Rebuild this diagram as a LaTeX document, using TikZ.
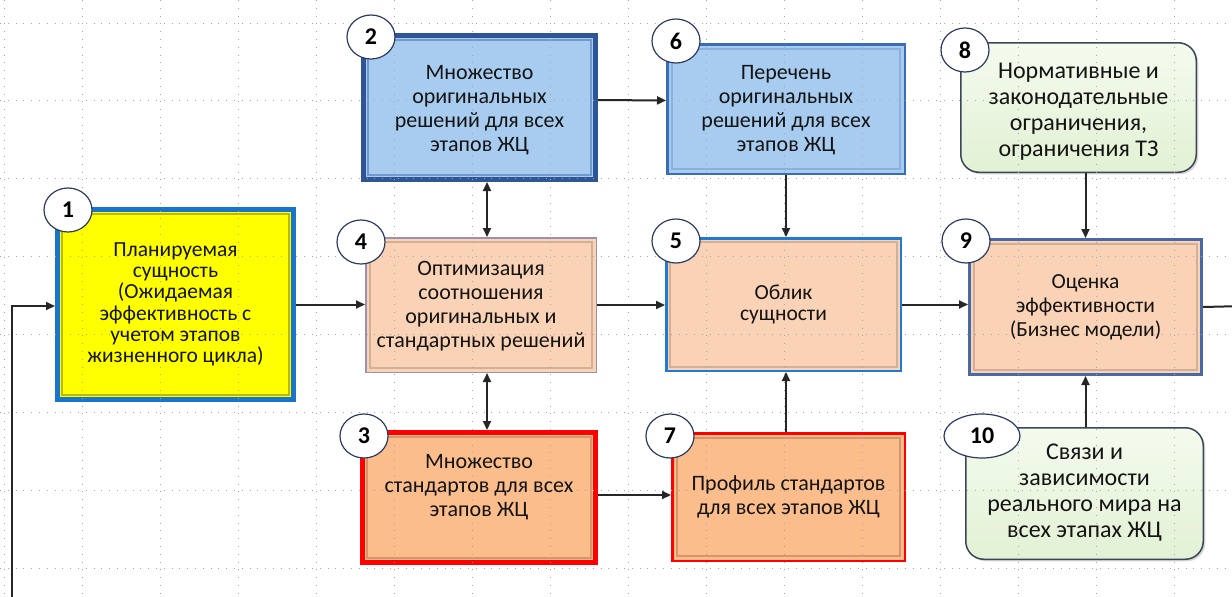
\documentclass[tikz,border=0pt]{standalone}
\usepackage{fontspec}
\setmainfont{Carlito}
\usetikzlibrary{arrows.meta,shapes.geometric,calc,shadows}
\definecolor{arrc}{HTML}{262626}
\definecolor{numc}{HTML}{2B3A5E}
\definecolor{bOneB}{HTML}{1874CD}
\definecolor{bOneF}{HTML}{FFFF00}
\definecolor{bOneR}{HTML}{B8B800}
\definecolor{blueF}{HTML}{A8CCF0}
\definecolor{bTwoB}{HTML}{2E5597}
\definecolor{bTwoR}{HTML}{7299CC}
\definecolor{bSixB}{HTML}{3A6DB8}
\definecolor{bSixR}{HTML}{8AB0DC}
\definecolor{peachF}{HTML}{FAD2B5}
\definecolor{peachR}{HTML}{D2B098}
\definecolor{bFourB}{HTML}{9A90B4}
\definecolor{bFiveB}{HTML}{1E7AD2}
\definecolor{bNineB}{HTML}{4868A8}
\definecolor{orangeF}{HTML}{FBBD8C}
\definecolor{orangeR}{HTML}{D6966C}
\definecolor{redB}{HTML}{FF0000}
\definecolor{greenT}{HTML}{F4FBEE}
\definecolor{greenB}{HTML}{E2F1D4}
\definecolor{greenD}{HTML}{3B4656}
\begin{document}
\begin{tikzpicture}[x=1pt,y=-1pt,
  box/.style={rectangle, inner sep=0pt},
  gbox/.style={rectangle, rounded corners=18pt, inner sep=0pt, draw=greenD, line width=1.5pt,
    top color=greenT, bottom color=greenB,
    drop shadow={opacity=0.3, shadow xshift=2pt, shadow yshift=-2pt}},
  txt/.style={align=center, inner sep=0pt, text=black!92, font=\fontsize{22}{24}\selectfont},
  num/.style={ellipse, draw=numc, line width=1.2pt, fill=white, minimum width=48pt,
    minimum height=44pt, inner sep=0pt, font=\fontsize{24}{24}\selectfont\bfseries},
  arr/.style={line width=2pt, draw=arrc, -{Triangle[length=9pt,width=8pt]}},
  darr/.style={line width=2pt, draw=arrc, {Triangle[length=9pt,width=8pt]}-{Triangle[length=9pt,width=8pt]}},
  plain/.style={line width=2pt, draw=arrc},
  gridline/.style={draw=black!35, line width=0.8pt, dash pattern=on 1pt off 6.8pt},
  rim/.style={line width=1.3pt}]
\useasboundingbox[fill=white] (0,0) rectangle (1232,597);

% boxes
\node[box, draw=bOneB, line width=5pt, fill=bOneF, minimum width=236pt, minimum height=190pt] (b1) at (175.5,304.5) {};
\node[box, draw=bTwoB, line width=5pt, fill=blueF, minimum width=232pt, minimum height=144pt] (b2) at (479.5,107.5) {};
\node[box, draw=bSixB, line width=2.5pt, fill=blueF, minimum width=237.5pt, minimum height=129.5pt] (b6) at (786,109) {};
\node[gbox, minimum width=235.5pt, minimum height=129.5pt] (b8) at (1078.5,107.5) {};
\node[box, draw=bFourB, line width=1.5pt, fill=peachF, minimum width=230.5pt, minimum height=134.5pt] (b4) at (481,305) {};
\node[box, draw=bFiveB, line width=2.5pt, fill=peachF, minimum width=234.5pt, minimum height=132.5pt] (b5) at (783.5,304.5) {};
\node[box, draw=bNineB, line width=3pt, fill=peachF, minimum width=232pt, minimum height=135pt] (b9) at (1085.5,307) {};
\node[box, draw=redB, line width=5pt, fill=orangeF, minimum width=233pt, minimum height=130pt] (b3) at (479,497.5) {};
\node[box, draw=redB, line width=2.5pt, fill=orangeF, minimum width=232.5pt, minimum height=127.5pt] (b7) at (788.5,497) {};
\node[gbox, minimum width=237.5pt, minimum height=131.5pt] (b10) at (1084.5,493.5) {};

% inner rims
\draw[rim, draw=bOneR] ($(b1.north west)+(7,7)$) rectangle ($(b1.south east)-(7,7)$);
\draw[rim, draw=bTwoR] ($(b2.north west)+(7,7)$) rectangle ($(b2.south east)-(7,7)$);
\draw[rim, draw=bSixR] ($(b6.north west)+(6,6)$) rectangle ($(b6.south east)-(6,6)$);
\draw[rim, draw=peachR] ($(b4.north west)+(5,5)$) rectangle ($(b4.south east)-(5,5)$);
\draw[rim, draw=peachR] ($(b5.north west)+(5,5)$) rectangle ($(b5.south east)-(5,5)$);
\draw[rim, draw=peachR] ($(b9.north west)+(6,6)$) rectangle ($(b9.south east)-(6,6)$);
\draw[rim, draw=orangeR] ($(b3.north west)+(7,7)$) rectangle ($(b3.south east)-(7,7)$);
\draw[rim, draw=orangeR] ($(b7.north west)+(6,6)$) rectangle ($(b7.south east)-(6,6)$);

% dotted grid
\foreach \i in {0,...,15} \draw[gridline] (4+78.05*\i,0) -- (4+78.05*\i,597);
\foreach \j in {0,...,7} \draw[gridline] (0,23+77.86*\j) -- (1232,23+77.86*\j);

% texts
\node[txt, font=\fontsize{21.5}{21.3}\selectfont] (t1) at (b1) {Планируемая\\сущность\\(Ожидаемая\\эффективность с\\учетом этапов\\жизненного цикла)};
\node[txt] (t2) at ([yshift=-3pt]b2.center) {Множество\\оригинальных\\решений для всех\\этапов ЖЦ};
\node[txt] (t6) at ([yshift=-1pt]b6.center) {Перечень\\оригинальных\\решений для всех\\этапов ЖЦ};
\node[txt, font=\fontsize{24}{26}\selectfont] (t8) at ([yshift=-4pt]b8.center) {Нормативные и\\законодательные\\ограничения,\\ограничения ТЗ};
\node[txt] (t4) at ([yshift=-1pt]b4.center) {Оптимизация\\соотношения\\оригинальных и\\стандартных решений};
\node[txt, font=\fontsize{21.5}{21}\selectfont] (t5) at (b5) {Облик\\сущности};
\node[txt, font=\fontsize{21.5}{24}\selectfont] (t9) at (b9) {Оценка\\эффективности\\(Бизнес модели)};
\node[txt] (t3) at ([yshift=10pt]b3.center) {Множество\\стандартов для всех\\этапов ЖЦ};
\node[txt] (t7) at (b7) {Профиль стандартов\\для всех этапов ЖЦ};
\node[txt, font=\fontsize{24}{26}\selectfont] (t10) at ([yshift=1pt]b10.center) {Связи и\\зависимости\\реального мира на\\всех этапах ЖЦ};

% number badges
\node[num] (n1) at (68,210) {1};
\node[num] (n2) at (371,37) {2};
\node[num] (n6) at (676,41) {6};
\node[num] (n8) at (965,50) {8};
\node[num] (n4) at (361,242) {4};
\node[num] (n5) at (676,241) {5};
\node[num] (n9) at (966,241) {9};
\node[num] (n3) at (364,436) {3};
\node[num] (n7) at (670,436) {7};
\node[num, minimum width=76pt] (n10) at (982,436) {10};

% connectors
\coordinate (fbR) at (1245,306);
\coordinate (fbB) at (12,610);
\draw[arr] (b1.east) -- (b4.west |- b1.east);
\draw[arr] (b4.east) -- (b5.west |- b4.east);
\draw[arr] (b5.east) -- (b9.west |- b5.east);
\draw[plain] (b9.east) -- (fbR);
\draw[arr] (fbB) |- ([yshift=-1.5pt]b1.west);
\draw[arr] ([yshift=7.5pt]b2.east) -- ([yshift=8.5pt]b6.west);
\draw[arr] ([yshift=2.5pt]b3.east) -- ([yshift=2pt]b7.west);
\draw[darr] ([xshift=7.5pt]b2.south) -- ([xshift=6pt]b4.north);
\draw[darr] ([xshift=6pt]b4.south) -- ([xshift=8pt]b3.north);
\draw[arr] (b6.south) -- (b6.south |- b5.north);
\draw[arr] ([xshift=-2.5pt]b7.north) -- ([xshift=-2.5pt]b7.north |- b5.south);
\draw[arr] (b8.south -| b9.north) -- (b9.north);
\draw[arr] (b10.north -| b9.south) -- (b9.south);
\end{tikzpicture}
\end{document}
